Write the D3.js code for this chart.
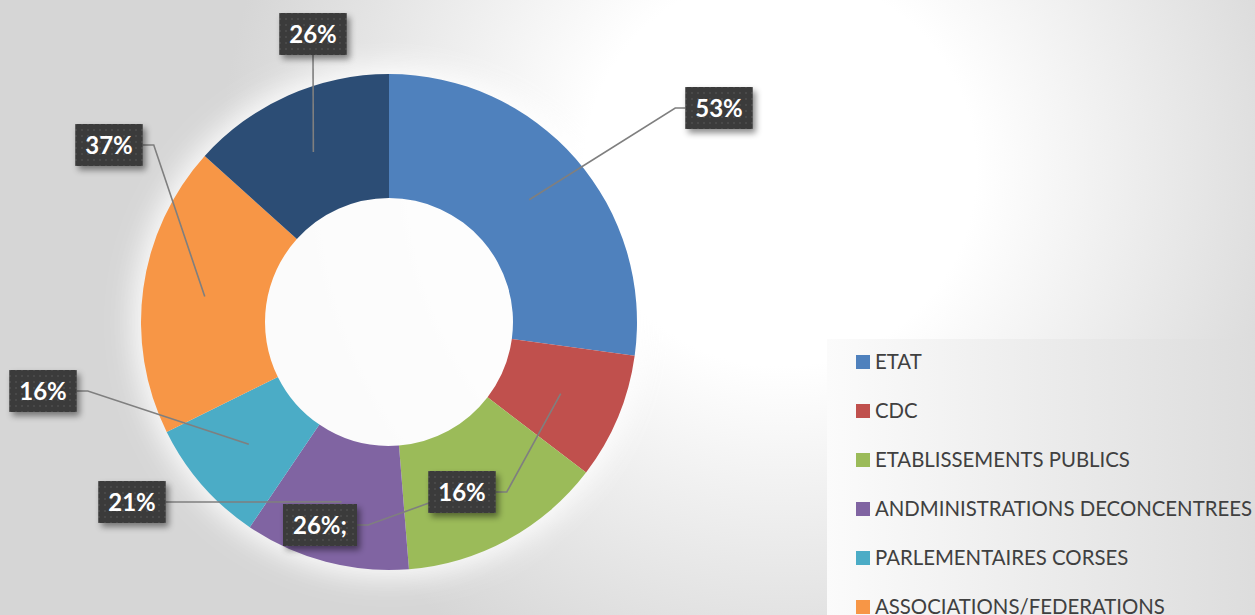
<!DOCTYPE html>
<html>
<head>
<meta charset="utf-8">
<script src="https://cdn.jsdelivr.net/npm/d3@7/dist/d3.min.js"></script>
<style>
  html, body { margin: 0; padding: 0; background: #fff; }
  svg { display: block; }
</style>
</head>
<body>
<svg id="chart" width="1255" height="615"></svg>
<script>
// ---- data ----
const categories = ["ETAT", "CDC", "ETABLISSEMENTS PUBLICS", "ANDMINISTRATIONS DECONCENTREES",
                    "PARLEMENTAIRES CORSES", "ASSOCIATIONS/FEDERATIONS", "AUTRES"];
const values = [53, 16, 26, 21, 16, 37, 26];
const labelTexts = ["53%", "16%", "26%;", "21%", "16%", "37%", "26%"];
const colors = ["#4F81BD", "#C0504D", "#9BBB59", "#8064A2", "#4BACC6", "#F79646", "#2C4D75"];

// ---- layout (positions of data-label boxes, not data) ----
const labelBoxes = [
  {cx: 719, cy: 108, side: "left"},
  {cx: 462, cy: 492, side: "right"},
  {cx: 320, cy: 525, side: "right"},
  {cx: 132, cy: 502, side: "right"},
  {cx: 43,  cy: 391, side: "right"},
  {cx: 109, cy: 145, side: "right"},
  {cx: 313, cy: 34,  side: "bottom"}
];

const W = 1255, H = 615;
const cx = 389, cy = 322, R = 248, r = 124;

const svg = d3.select("#chart");
const defs = svg.append("defs");

// background gradient
const bg = defs.append("radialGradient").attr("id", "bgGrad")
  .attr("gradientUnits", "userSpaceOnUse")
  .attr("cx", 780).attr("cy", 170).attr("r", 560);
bg.append("stop").attr("offset", 0).attr("stop-color", "#ffffff");
bg.append("stop").attr("offset", 0.35).attr("stop-color", "#ffffff");
bg.append("stop").attr("offset", 1).attr("stop-color", "#d6d6d6");

const legGrad = defs.append("linearGradient").attr("id", "legGrad")
  .attr("x1", 0).attr("x2", 1).attr("y1", 0).attr("y2", 0);
legGrad.append("stop").attr("offset", 0).attr("stop-color", "#fbfbfb");
legGrad.append("stop").attr("offset", 1).attr("stop-color", "#dcdcdc");

const glow = defs.append("filter").attr("id", "glow")
  .attr("x", "-30%").attr("y", "-30%").attr("width", "160%").attr("height", "160%");
glow.append("feGaussianBlur").attr("stdDeviation", 14);

const shadow = defs.append("filter").attr("id", "shadow")
  .attr("x", "-30%").attr("y", "-30%").attr("width", "160%").attr("height", "160%");
shadow.append("feDropShadow").attr("dx", 3).attr("dy", 4).attr("stdDeviation", 3)
  .attr("flood-color", "#000").attr("flood-opacity", 0.45);

const pat = defs.append("pattern").attr("id", "dots")
  .attr("patternUnits", "userSpaceOnUse").attr("width", 6).attr("height", 6);
pat.append("rect").attr("width", 6).attr("height", 6).attr("fill", "#3b3b3b");
pat.append("rect").attr("x", 2).attr("y", 2).attr("width", 2).attr("height", 2).attr("fill", "#4a4a4a");

svg.append("rect").attr("width", W).attr("height", H).attr("fill", "url(#bgGrad)");

// glow around donut
svg.append("circle").attr("cx", cx).attr("cy", cy).attr("r", R + 8)
  .attr("fill", "#ffffff").attr("opacity", 0.9).attr("filter", "url(#glow)");

// ---- donut ----
const pie = d3.pie().sort(null).value(d => d.v);
const data = categories.map((c, i) => ({name: c, v: values[i], label: labelTexts[i], color: colors[i], box: labelBoxes[i]}));
const arcs = pie(data);
const arc = d3.arc().innerRadius(r).outerRadius(R);

const g = svg.append("g").attr("transform", `translate(${cx},${cy})`);
g.selectAll("path.slice").data(arcs).join("path")
  .attr("class", "slice")
  .attr("d", arc)
  .attr("fill", d => d.data.color);

// ---- leader lines + labels ----
const labG = svg.append("g");
const fontLab = "Lato, 'Open Sans', sans-serif";

// measure text to size boxes
const boxes = arcs.map(a => {
  const t = labG.append("text").attr("font-family", fontLab).attr("font-weight", 700)
    .attr("font-size", 24).text(a.data.label);
  const w = t.node().getComputedTextLength();
  t.remove();
  const bw = w + 20, bh = 42;
  const b = a.data.box;
  const c = arc.centroid(a);
  const px = cx + c[0], py = cy + c[1];
  let pts;
  if (b.side === "left") {
    const sx = b.cx - bw / 2;
    pts = [[sx, b.cy], [sx - 10, b.cy], [px, py]];
  } else if (b.side === "right") {
    const sx = b.cx + bw / 2;
    pts = [[sx, b.cy], [sx + 11, b.cy], [px, py]];
  } else {
    pts = [[b.cx, b.cy + bh / 2], [px, py]];
  }
  return {a, bw, bh, pts};
});

labG.selectAll("path.leader").data(boxes).join("path")
  .attr("class", "leader")
  .attr("d", d => d3.line()(d.pts))
  .attr("fill", "none").attr("stroke", "#7f7f7f").attr("stroke-width", 1.6);

const lb = labG.selectAll("g.lbl").data(boxes).join("g").attr("class", "lbl")
  .attr("transform", d => `translate(${d.a.data.box.cx},${d.a.data.box.cy})`);
lb.append("rect")
  .attr("x", d => -d.bw / 2).attr("y", d => -d.bh / 2)
  .attr("width", d => d.bw).attr("height", d => d.bh)
  .attr("fill", "url(#dots)").attr("filter", "url(#shadow)");
lb.append("text")
  .attr("text-anchor", "middle").attr("dy", "0.36em")
  .attr("font-family", fontLab).attr("font-weight", 700).attr("font-size", 24)
  .attr("fill", "#ffffff")
  .text(d => d.a.data.label);

// ---- legend ----
const leg = svg.append("g");
leg.append("rect").attr("x", 827).attr("y", 339).attr("width", 440).attr("height", 300)
  .attr("fill", "url(#legGrad)");
const fontLeg = "Lato, 'Open Sans', sans-serif";
const items = leg.selectAll("g.item").data(data).join("g").attr("class", "item")
  .attr("transform", (d, i) => `translate(856,${362 + i * 49})`);
items.append("rect").attr("x", 0).attr("y", -7).attr("width", 14).attr("height", 14)
  .attr("fill", d => d.color);
const texts = items.append("text").attr("x", 19).attr("dy", "0.36em")
  .attr("font-family", fontLeg).attr("font-size", 20).attr("fill", "#404040")
  .text(d => d.name);
// fit the widest label to the reference width
const widest = texts.nodes()[3].getComputedTextLength();
const fs = 20 * 377 / widest;
texts.attr("font-size", fs);
</script>
</body>
</html>
